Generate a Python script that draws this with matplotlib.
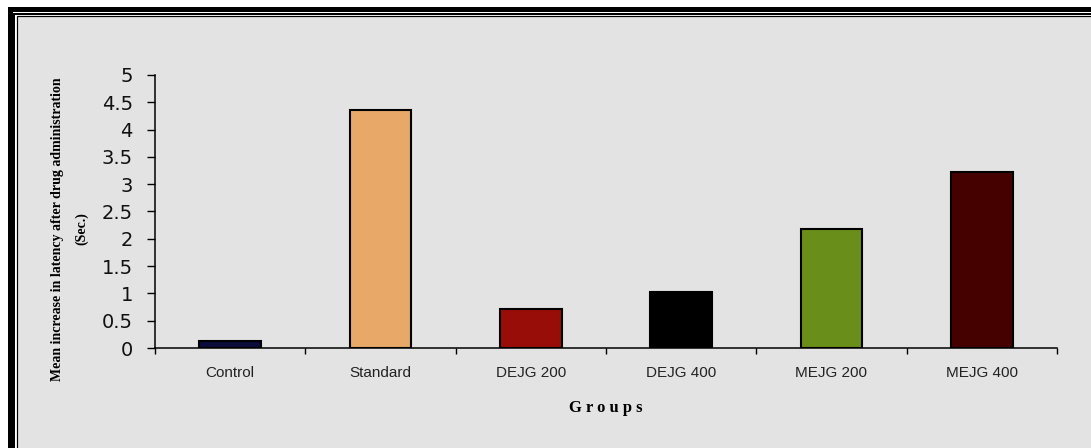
import numpy as np
import matplotlib
matplotlib.use("Agg")
import matplotlib.pyplot as plt
from matplotlib.patches import Rectangle
from matplotlib.lines import Line2D

groups = ["Control", "Standard", "DEJG 200", "DEJG 400", "MEJG 200", "MEJG 400"]
latency = [0.13, 4.36, 0.72, 1.02, 2.18, 3.23]
colors = ["#0b0b3c", "#e8a868", "#990d08", "#000000", "#6a8e1a", "#450000"]
yticks = [0, 0.5, 1, 1.5, 2, 2.5, 3, 3.5, 4, 4.5, 5]
ytick_labels = ["0", "0.5", "1", "1.5", "2", "2.5", "3", "3.5", "4", "4.5", "5"]

W, H = 1091, 448
fig = plt.figure(figsize=(W/100, H/100), dpi=100)
fig.patch.set_facecolor("white")

def px(x, y):
  return x/W, 1-y/H

# gray panel + double border
x0, y0 = px(17, 17)
fig.patches.append(Rectangle((x0, 0), 1-x0, y0, transform=fig.transFigure,
                             facecolor="#e3e3e3", edgecolor="none", zorder=-10))
for off, lw in [(9.5, 5), (14, 2), (16.5, 1.2)]:
  xa, ya = px(off, off)
  fig.lines.append(Line2D([xa, xa, 1.01], [-0.01, ya, ya], transform=fig.transFigure,
                          color="black", linewidth=lw*0.72, solid_joinstyle="miter", zorder=-5))

l, t = 155/W, 1-75/H
r, b = 1057/W, 1-348/H
ax = fig.add_axes([l, b, r-l, t-b])
ax.set_zorder(5)
ax.patch.set_alpha(0)

x = np.arange(len(groups))
ax.bar(x, latency, width=0.41, color=colors, edgecolor="black", linewidth=1.5, zorder=3)

ax.set_xlim(-0.5, 5.5)
ax.set_ylim(0, 5)
for s in ["top", "right"]:
  ax.spines[s].set_visible(False)
ax.spines["left"].set_linewidth(1.1)
ax.spines["bottom"].set_linewidth(1.1)

ax.set_yticks(yticks)
ax.set_yticklabels(ytick_labels, fontfamily="DejaVu Sans", fontsize=14, color="#111111")
ax.tick_params(axis="y", direction="out", length=6, width=1, pad=10)

ax.set_xticks(x)
ax.set_xticklabels(groups, fontfamily="Liberation Sans", fontsize=11, color="#222222")
ax.set_xticks(np.arange(-0.5, 6, 1), minor=True)
ax.tick_params(axis="x", which="major", length=0, pad=13)
ax.tick_params(axis="x", which="minor", direction="out", length=4, width=1)

ax.set_xlabel("G r o u p s", fontfamily="Liberation Serif", fontweight="bold", fontsize=12, labelpad=14)
fig.text(58/W, 1-229/H, "Mean increase in latency after drug administration",
         rotation=90, ha="center", va="center", fontfamily="Liberation Serif",
         fontsize=10, fontweight="bold")
fig.text(82/W, 1-229/H, "(Sec.)", rotation=90, ha="center", va="center",
         fontfamily="Liberation Serif", fontsize=10, fontweight="bold")

fig.savefig("out.png", dpi=100)
